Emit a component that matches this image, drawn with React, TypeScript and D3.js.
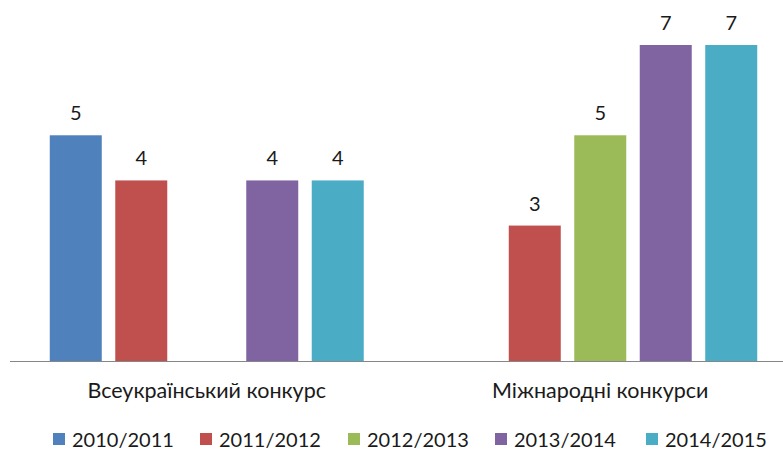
import React from 'react';
import * as d3 from 'd3';

const categories = ['Всеукраїнський конкурс', 'Міжнародні конкурси'];
const seriesNames = ['2010/2011', '2011/2012', '2012/2013', '2013/2014', '2014/2015'];
const seriesColors = ['#4F81BD', '#C0504D', '#9BBB59', '#8064A2', '#4BACC6'];
// values per series, one per category (null = no bar)
const s2010: (number | null)[] = [5, null];
const s2011: (number | null)[] = [4, 3];
const s2012: (number | null)[] = [null, 5];
const s2013: (number | null)[] = [4, 7];
const s2014: (number | null)[] = [4, 7];
const seriesValues = [s2010, s2011, s2012, s2013, s2014];

const W = 783;
const H = 450;
const FONT = 'Lato, "Open Sans", sans-serif';

const App = () => {
  const x0 = d3.scaleBand<string>().domain(categories).range([10, 797]).padding(0);
  const x1 = d3
    .scaleBand<string>()
    .domain(seriesNames)
    .range([0, x0.bandwidth()])
    .paddingInner(0.206)
    .paddingOuter(0.607);
  const y = d3.scaleLinear().domain([0, 7]).range([361, 45]);

  const legendX = [53, 200, 348, 495, 646];

  return (
    <svg width={W} height={H} style={{ position: 'absolute', left: 0, top: 0, background: '#fff' }}>
      {categories.map((cat, ci) => (
        <g key={cat}>
          {seriesNames.map((s, si) => {
            const v = seriesValues[si][ci];
            if (v == null) return null;
            const bx = (x0(cat) as number) + (x1(s) as number);
            return (
              <g key={s}>
                <rect x={bx} y={y(v)} width={x1.bandwidth()} height={y(0) - y(v)} fill={seriesColors[si]} />
                <text
                  x={bx + x1.bandwidth() / 2}
                  y={y(v) - 15}
                  textAnchor="middle"
                  fontFamily={FONT}
                  fontSize={20}
                  fill="#1a1a1a"
                >
                  {v}
                </text>
              </g>
            );
          })}
          <text
            x={(x0(cat) as number) + x0.bandwidth() / 2}
            y={398}
            textAnchor="middle"
            fontFamily={FONT}
            fontSize={21.5}
            fill="#1a1a1a"
          >
            {cat}
          </text>
        </g>
      ))}
      <line x1={10} x2={783} y1={361.5} y2={361.5} stroke="#868686" strokeWidth={1} />
      {seriesNames.map((s, i) => (
        <g key={s}>
          <rect x={legendX[i]} y={433} width={12} height={12} fill={seriesColors[i]} />
          <text x={legendX[i] + 19} y={447} fontFamily={FONT} fontSize={20} fill="#1a1a1a">
            {s}
          </text>
        </g>
      ))}
    </svg>
  );
};

export default App;
